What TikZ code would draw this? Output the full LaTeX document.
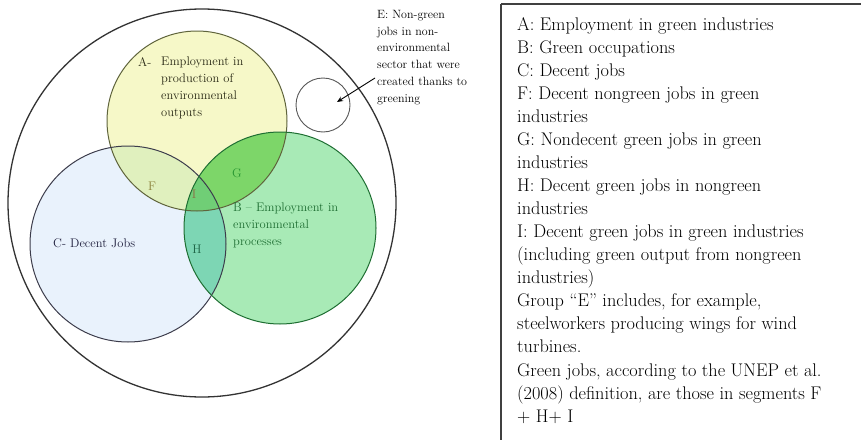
\documentclass[tikz,border=0pt]{standalone}
\usepackage{fontspec}
\usetikzlibrary{arrows.meta}
\definecolor{Ayel}{RGB}{246,248,200}
\definecolor{Cblue}{RGB}{233,242,252}
\definecolor{Bgreen}{RGB}{168,234,182}
\definecolor{ACcol}{RGB}{224,240,190}
\definecolor{ABcol}{RGB}{125,214,105}
\definecolor{BCcol}{RGB}{125,214,180}
\definecolor{ABCcol}{RGB}{112,206,118}
\definecolor{Aline}{RGB}{95,100,60}
\definecolor{Bline}{RGB}{30,110,50}
\definecolor{Cline}{RGB}{60,60,75}
\definecolor{Ftxt}{RGB}{140,130,60}
\definecolor{Itxt}{RGB}{140,110,70}
\definecolor{Gtxt}{RGB}{40,150,50}
\definecolor{Htxt}{RGB}{30,100,70}
\definecolor{Btxt}{RGB}{30,110,50}
\definecolor{Ctxt}{RGB}{30,30,60}
\definecolor{Atxt}{RGB}{40,40,20}
\begin{document}
\begin{tikzpicture}[x=1pt,y=-1pt,
  venntext/.style={inner sep=0pt, align=left, font=\fontsize{12.5}{17}\selectfont},
  seglabel/.style={inner sep=0pt, font=\fontsize{12.5}{17}\selectfont},
  legendtext/.style={inner sep=0pt, align=left, anchor=north west, font=\fontsize{18.3}{23.06}\selectfont}]
\useasboundingbox (0,0) rectangle (861,439);
\fill[white] (0,0) rectangle (861,439);
% outer circle
\draw[line width=1.3pt, draw=black!80] (202,203) circle[radius=194pt];
% base fills
\fill[Ayel] (197,121) circle[radius=90pt];
\fill[Cblue] (128,244) circle[radius=98pt];
\fill[Bgreen] (280,228) circle[radius=96pt];
% intersections
\begin{scope}
  \clip (197,121) circle[radius=90pt];
  \fill[ACcol] (128,244) circle[radius=98pt];
  \fill[ABcol] (280,228) circle[radius=96pt];
\end{scope}
\begin{scope}
  \clip (128,244) circle[radius=98pt];
  \fill[BCcol] (280,228) circle[radius=96pt];
  \clip (280,228) circle[radius=96pt];
  \fill[ABCcol] (197,121) circle[radius=90pt];
\end{scope}
% outlines
\draw[line width=1pt, draw=Aline] (197,121) circle[radius=90pt];
\draw[line width=1pt, draw=Cline] (128,244) circle[radius=98pt];
\draw[line width=1pt, draw=Bline] (280,228) circle[radius=96pt];
% small circle E
\draw[line width=0.9pt, draw=black!65] (323,105) circle[radius=27pt];
% texts in diagram
\node[venntext, anchor=base west, text=Atxt] (Alab) at (138,66) {A-};
\node[venntext, anchor=north west, text=Atxt] (Atext) at (161,57) {Employment in\\production of\\environmental\\outputs};
\node[seglabel, anchor=base, text=Ftxt] (F) at (152,190) {F};
\node[seglabel, anchor=base, text=Itxt] (I) at (194,198) {I};
\node[seglabel, anchor=base, text=Gtxt] (G) at (237,177) {G};
\node[seglabel, anchor=base, text=Htxt] (H) at (197,253) {H};
\node[venntext, anchor=base west, text=Ctxt] (Ctext) at (53,247) {C- Decent Jobs};
\node[venntext, anchor=north west, text=Btxt] (Btext) at (233,203) {B -- Employment in\\environmental\\processes};
\node[venntext, anchor=north west, text=black, font=\fontsize{12}{16.8}\selectfont] (Etext) at (377,10) {E: Non-green\\jobs in non-\\environmental\\sector that were\\created thanks to\\greening};
\coordinate (Estart) at (375,78);
\coordinate (Etip) at (337,102);
\draw[line width=0.9pt, -{Stealth[length=6pt,width=5pt]}] (Estart) -- (Etip);
% legend box
\draw[line width=1.2pt, draw=black!75] (501,4) -- (880,4);
\draw[line width=1.2pt, draw=black!75] (501,4) -- (501,460);
\node[legendtext] (legend) at (517,17) {A: Employment in green industries\\
B: Green occupations\\
C: Decent jobs\\
F: Decent nongreen jobs in green\\
industries\\
G: Nondecent green jobs in green\\
industries\\
H: Decent green jobs in nongreen\\
industries\\
I: Decent green jobs in green industries\\
(including green output from nongreen\\
industries)\\
Group \textquotedblleft E\textquotedblright\ includes, for example,\\
steelworkers producing wings for wind\\
turbines.\\
Green jobs, according to the UNEP et al.\\
(2008) definition, are those in segments F\\
+ H+ I};
\end{tikzpicture}
\end{document}
